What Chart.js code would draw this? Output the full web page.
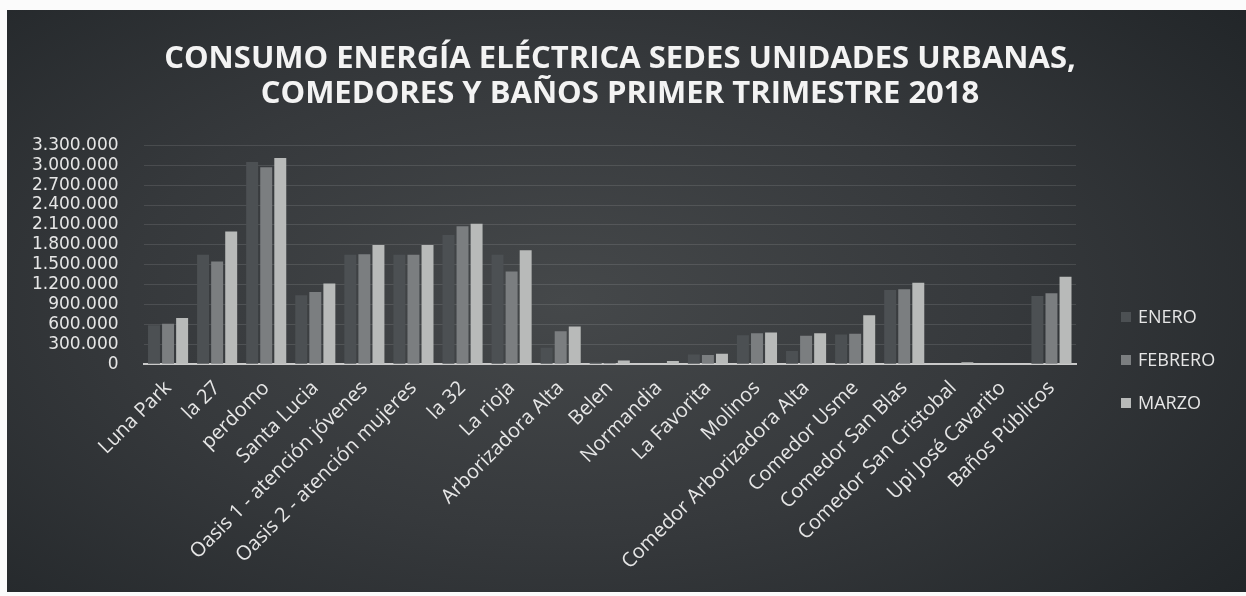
<!DOCTYPE html>
<html>
<head>
<meta charset="utf-8">
<script src="https://cdn.jsdelivr.net/npm/chart.js@4.4.1/dist/chart.umd.min.js"></script>
<style>
  html, body { margin:0; padding:0; background:#fbfbfb; width:1246px; height:596px; overflow:hidden; }
  #wrap {
    position:absolute; left:7px; top:10px; width:1239px; height:582px;
    background: radial-gradient(ellipse 70% 80% at 45% 50%, #45484a 0%, #36393c 50%, #222629 100%);
  }
  #leyenda { position:absolute; left:1114px; top:296px; font-family:'Open Sans'; font-size:18px; color:#e6e6e6; }
  #leyenda div { height:43px; line-height:20px; white-space:nowrap; }
  #leyenda span.caja { display:inline-block; width:10px; height:10px; margin-right:7px; vertical-align:1px; }
</style>
</head>
<body>
<div id="wrap"><canvas id="consumo"></canvas><div id="leyenda"></div></div>
<script>
// Sedes
const categorias = [
  'Luna Park', 'la 27', 'perdomo', 'Santa Lucia',
  'Oasis 1 - atención jóvenes', 'Oasis 2 - atención mujeres',
  'la 32', 'La rioja', 'Arborizadora Alta', 'Belen', 'Normandia',
  'La Favorita', 'Molinos', 'Comedor Arborizadora Alta', 'Comedor Usme',
  'Comedor San Blas', 'Comedor San Cristobal', 'Upi José Cavarito', 'Baños Públicos'
];

// Consumo por mes
const enero   = [590000, 1650000, 3050000, 1040000, 1650000, 1650000, 1950000, 1650000, 250000, 30000, 10000, 150000, 440000, 200000, 450000, 1120000, 10000, 0, 1030000];
const febrero = [610000, 1550000, 2970000, 1090000, 1660000, 1650000, 2080000, 1400000, 500000, 20000, 10000, 140000, 470000, 430000, 460000, 1130000, 10000, 0, 1070000];
const marzo   = [700000, 2000000, 3110000, 1220000, 1800000, 1800000, 2120000, 1720000, 570000, 60000, 50000, 160000, 480000, 470000, 740000, 1230000, 30000, 0, 1320000];

const meses = ['ENERO', 'FEBRERO', 'MARZO'];
const colores = ['#4c5053', '#7b7e80', '#b8bab9'];
const ejeY = { min: 0, max: 3300000, paso: 300000 };

const titulo = [
  'CONSUMO ENERGÍA ELÉCTRICA SEDES UNIDADES URBANAS,',
  'COMEDORES Y BAÑOS PRIMER TRIMESTRE 2018'
];

// 1234567 -> 1.234.567
const fmt = n => String(n).replace(/\B(?=(\d{3})+(?!\d))/g, '.');

const texto = '#e6e6e6';

const chart = new Chart(document.getElementById('consumo'), {
  type: 'bar',
  data: {
    labels: categorias,
    datasets: [enero, febrero, marzo].map((d, i) => ({ label: meses[i], data: d, backgroundColor: colores[i] }))
  },
  options: {
    responsive: true,
    maintainAspectRatio: false,
    animation: false,
    datasets: { bar: { categoryPercentage: 0.86, barPercentage: 0.85 } },
    layout: { padding: { left: 0, right: 13, top: 0, bottom: 14 } },
    scales: {
      x: {
        grid: { display: false },
        border: { display: true, color: '#c9c9c9', width: 2 },
        ticks: {
          color: texto, autoSkip: false, minRotation: 45, maxRotation: 45, padding: 4,
          font: { family: 'Open Sans', size: 20 }
        }
      },
      y: {
        min: ejeY.min, max: ejeY.max,
        grid: { color: 'rgba(255,255,255,0.11)', drawTicks: false },
        border: { display: false },
        ticks: {
          stepSize: ejeY.paso, autoSkip: false, color: texto, padding: 25,
          font: { family: 'DejaVu Sans', size: 17 },
          callback: v => fmt(v)
        }
      },
      // hueco a la derecha para la leyenda
      hueco: {
        type: 'linear', position: 'right',
        grid: { display: false }, border: { display: false }, ticks: { display: false },
        afterFit: s => { s.width = 157; }
      }
    },
    plugins: {
      title: {
        display: true, text: titulo, color: '#f3f3f3',
        font: { family: 'Open Sans', size: 31, weight: 'bold', lineHeight: 1.15 },
        padding: { top: 31, bottom: 33 }
      },
      legend: { display: false },
      tooltip: { enabled: false }
    }
  }
});

// Leyenda simple
document.getElementById('leyenda').innerHTML = chart.data.datasets.map(ds =>
  `<div><span class="caja" style="background:${ds.backgroundColor}"></span>${ds.label}</div>`).join('');
</script>
</body>
</html>
